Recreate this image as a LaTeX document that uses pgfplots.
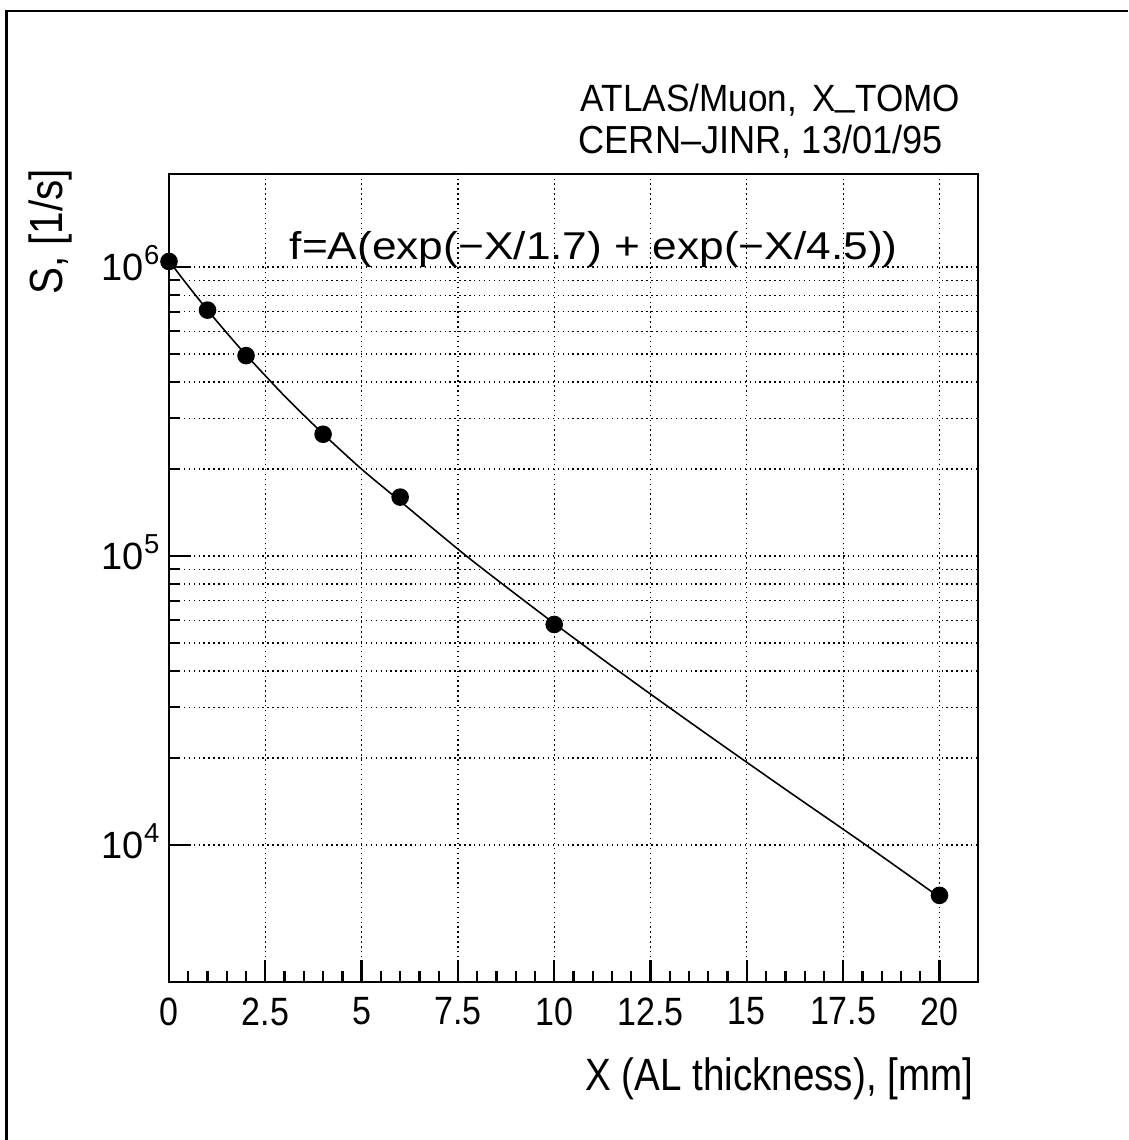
\documentclass[border=0pt]{standalone}
\usepackage{pgfplots}
\pgfplotsset{compat=1.18}
\usepackage{fontspec}
\setmainfont{Liberation Sans}
\newcommand{\tl}[1]{\scalebox{0.93}[1.08]{\fontsize{10.4pt}{10.4pt}\selectfont #1}}
\newcommand{\ylab}[1]{\fontsize{10.8pt}{10.8pt}\selectfont 10\smash{\raisebox{1.55mm}{\fontsize{7.8pt}{7.8pt}\selectfont #1}}}
\begin{document}
\begin{tikzpicture}[x=1cm,y=1cm]
\useasboundingbox (0,0) rectangle (11.28,11.40);
\draw[line width=0.25mm] (0.065,0) -- (0.065,11.29) -- (11.28,11.29);
\begin{axis}[
  at={(1.69cm,1.58cm)}, anchor=south west,
  scale only axis, width=8.09cm, height=8.08cm,
  xmin=0, xmax=21, ymode=log, ymin=3360, ymax=2.1e6,
  xtick={0,2.5,5,7.5,10,12.5,15,17.5,20},
  xticklabels={\tl{0},\tl{2.5},\tl{5},\tl{7.5},\tl{10},\tl{12.5},\tl{15},\tl{17.5},\tl{20}},
  minor x tick num=4,
  ytick={1e4,1e5,1e6},
  yticklabels={\ylab{4},\ylab{5},\ylab{6}},
  xticklabel style={anchor=north, inner sep=0pt, yshift=-1.5mm},
  yticklabel style={anchor=east, inner sep=0pt, xshift=-0.9mm},
  tick align=inside, xtick pos=bottom, ytick pos=left,
  major tick length=2.2mm, minor tick length=1.1mm,
  xmajorgrids, ymajorgrids, yminorgrids,
  major grid style={densely dotted, black, line width=0.35pt},
  minor grid style={densely dotted, black, line width=0.35pt},
  axis line style={black, line width=0.65pt},
  every tick/.style={black, line width=0.65pt},
  clip=false,
]
\addplot[black, line width=0.45pt, smooth] coordinates {
 (0,1.05e6) (0.5,8.6e5) (1,7.1e5) (1.5,5.92e5) (2,4.97e5) (3,3.58e5)
 (4,2.65e5) (5,2.0e5) (6,1.55e5) (7,1.2e5) (8,9.35e4) (10,5.85e4)
 (12,3.72e4) (14,2.4e4) (16,1.56e4) (18,1.02e4) (20,6.6e3)
};
\addplot[only marks, mark=*, mark size=2.3pt, black] coordinates {
 (0,1.046e6) (1,7.1e5) (2,4.94e5) (4,2.64e5) (6,1.6e5) (10,5.8e4) (20,6.7e3)
};
\node[anchor=base, inner sep=0pt] at (axis description cs:0.525,0.894) {\scalebox{1.2}[1.05]{\fontsize{10.5pt}{10.5pt}\selectfont f=A(exp(\textminus X/1.7) + exp(\textminus X/4.5))}};
\end{axis}
\node[anchor=base west, inner sep=0pt] at (5.80,10.28) {\scalebox{1}[1.08]{\fontsize{10pt}{10pt}\selectfont ATLAS/Muon,\, X\raisebox{0.18em}{\_}TOMO}};
\node[anchor=base west, inner sep=0pt] at (5.78,9.86) {\scalebox{1}[1.08]{\fontsize{10.3pt}{10.3pt}\selectfont CERN\textendash JINR, 13/01/95}};
\node[anchor=base east, inner sep=0pt] at (9.74,0.50) {\scalebox{0.98}[1.15]{\fontsize{11.2pt}{11.2pt}\selectfont X (AL thickness), [mm]}};
\node[anchor=base, inner sep=0pt, rotate=90] at (0.62,9.08) {\scalebox{1}[1.15]{\fontsize{11.5pt}{11.5pt}\selectfont S, [1/s]}};
\end{tikzpicture}
\end{document}
